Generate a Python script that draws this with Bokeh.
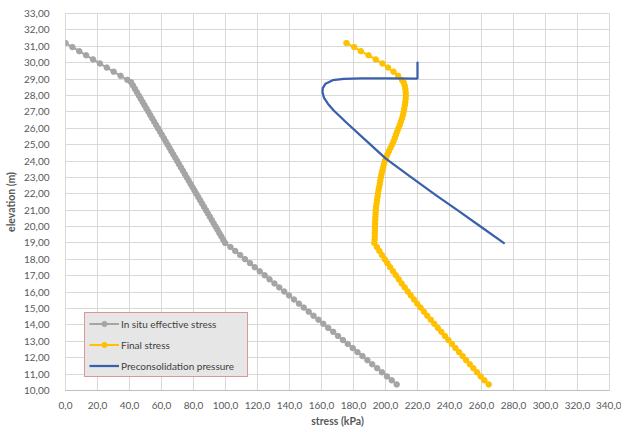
from bokeh.plotting import figure
from bokeh.models import Range1d, FixedTicker, Legend, LegendItem
from bokeh.embed import file_html
from bokeh.resources import INLINE

# elevation (m) of the profile points
elevation = [
    31.2, 30.95, 30.7, 30.45, 30.2, 29.95, 29.7, 29.45, 29.2, 28.95,
    28.8, 28.6, 28.4, 28.2, 28.0, 27.8, 27.6, 27.4, 27.2, 27.0,
    26.8, 26.6, 26.4, 26.2, 26.0, 25.8, 25.6, 25.4, 25.2, 25.0,
    24.8, 24.6, 24.4, 24.2, 24.0, 23.8, 23.6, 23.4, 23.2, 23.0,
    22.8, 22.6, 22.4, 22.2, 22.0, 21.8, 21.6, 21.4, 21.2, 21.0,
    20.8, 20.6, 20.4, 20.2, 20.0, 19.8, 19.6, 19.4, 19.2, 19.0,
    18.75, 18.51, 18.26, 18.01, 17.77, 17.52, 17.27, 17.03, 16.78, 16.53,
    16.29, 16.04, 15.8, 15.55, 15.3, 15.06, 14.81, 14.56, 14.32, 14.07,
    13.82, 13.58, 13.33, 13.08, 12.84, 12.59, 12.34, 12.1, 11.85, 11.6,
    11.36, 11.11, 10.86, 10.62, 10.37,
]

# in situ effective stress (kPa)
in_situ = [
    0.0, 4.3, 8.6, 12.9, 17.2, 21.5, 25.8, 30.1, 34.4, 38.7,
    41.0, 42.2, 43.4, 44.6, 45.8, 47.0, 48.2, 49.4, 50.6, 51.8,
    53.0, 54.2, 55.4, 56.6, 57.8, 59.0, 60.2, 61.4, 62.6, 63.8,
    65.0, 66.2, 67.4, 68.6, 69.8, 71.0, 72.2, 73.4, 74.6, 75.8,
    77.0, 78.2, 79.4, 80.6, 81.8, 83.0, 84.2, 85.4, 86.6, 87.8,
    89.0, 90.2, 91.4, 92.6, 93.8, 95.0, 96.2, 97.4, 98.6, 99.8,
    103.1, 106.1, 109.2, 112.2, 115.3, 118.3, 121.4, 124.5, 127.5, 130.6,
    133.6, 136.7, 139.7, 142.8, 145.9, 148.9, 152.0, 155.0, 158.1, 161.1,
    164.2, 167.3, 170.3, 173.4, 176.4, 179.5, 182.5, 185.6, 188.7, 191.7,
    194.8, 197.8, 200.9, 203.9, 207.0,
]

# final stress (kPa)
final_stress = [
    175.6, 180.4, 184.6, 189.4, 193.9, 198.1, 201.6, 205.0, 207.9, 210.3,
    211.3, 212.0, 212.4, 212.6, 212.7, 212.6, 212.4, 212.1, 211.7, 211.3,
    210.9, 210.3, 209.6, 208.9, 208.1, 207.3, 206.5, 205.8, 205.0, 204.1,
    203.1, 202.1, 201.2, 200.4, 199.6, 199.0, 198.5, 198.0, 197.5, 197.1,
    196.7, 196.4, 196.0, 195.6, 195.3, 195.0, 194.7, 194.4, 194.1, 193.9,
    193.8, 193.7, 193.6, 193.5, 193.4, 193.4, 193.3, 193.3, 193.2, 193.0,
    194.6, 196.2, 197.8, 199.5, 201.2, 202.9, 204.7, 206.5, 208.3, 210.1,
    212.0, 213.9, 215.8, 217.8, 219.8, 221.9, 224.0, 226.1, 228.3, 230.5,
    232.7, 234.9, 237.1, 239.3, 241.5, 243.7, 246.0, 248.2, 250.4, 252.7,
    254.9, 257.2, 259.5, 261.8, 264.5,
]

# preconsolidation pressure (kPa) and its elevations (m)
pc_stress = [220.0, 220.0, 200.0, 185.0, 174.0, 167.0, 162.5, 160.8, 160.6, 161.6,
             164.0, 167.5, 175.5, 186.5, 200.2, 215.5, 231.0, 246.5, 260.5, 274.5]
pc_elevation = [30.05, 29.03, 29.04, 29.04, 29.01, 28.93, 28.72, 28.45, 28.2, 27.85,
                27.5, 27.1, 26.35, 25.37, 24.15, 23.05, 21.95, 20.9, 19.93, 18.96]

x_ticks = [0, 20, 40, 60, 80, 100, 120, 140, 160, 180, 200, 220, 240, 260, 280, 300, 320, 340]
y_ticks = [10, 11, 12, 13, 14, 15, 16, 17, 18, 19, 20, 21, 22, 23, 24, 25, 26, 27, 28, 29, 30, 31, 32, 33]
x_labels = {t: f"{t:.1f}".replace(".", ",") for t in x_ticks}
y_labels = {t: f"{t:.2f}".replace(".", ",") for t in y_ticks}

FONT = "Lato"
TXT = "#595959"

p = figure(width=621, height=430, x_range=Range1d(0, 340), y_range=Range1d(10, 33),
           output_backend="svg", toolbar_location=None,
           min_border_left=65, min_border_right=12, min_border_top=13, min_border_bottom=40)
p.background_fill_color = "white"
p.border_fill_color = "white"
p.outline_line_color = "#d9d9d9"

p.xaxis.ticker = FixedTicker(ticks=x_ticks)
p.yaxis.ticker = FixedTicker(ticks=y_ticks)
p.xaxis.major_label_overrides = x_labels
p.yaxis.major_label_overrides = y_labels
p.xgrid.ticker = FixedTicker(ticks=x_ticks)
p.ygrid.ticker = FixedTicker(ticks=y_ticks)
p.grid.grid_line_color = "#d9d9d9"
p.grid.grid_line_width = 1

for ax in (p.xaxis, p.yaxis):
    ax.major_tick_line_color = None
    ax.minor_tick_line_color = None
    ax.major_label_text_color = TXT
    ax.major_label_text_font = FONT
    ax.major_label_text_font_size = "10px"
    ax.axis_label_text_color = TXT
    ax.axis_label_text_font = FONT
    ax.axis_label_text_font_size = "10.5px"
    ax.axis_label_text_font_style = "bold"
p.xaxis.axis_line_color = "#bfbfbf"
p.yaxis.axis_line_color = None
p.xaxis.axis_label = "stress (kPa)"
p.yaxis.axis_label = "elevation (m)"
p.xaxis.major_label_standoff = 5
p.xaxis.axis_label_standoff = 3
p.yaxis.major_label_standoff = 10
p.yaxis.axis_label_standoff = 4

gray = "#a5a5a5"
yellow = "#ffc000"
blue = "#3a5fab"

g_line = p.line(in_situ, elevation, line_color=gray, line_width=2)
g_pts = p.scatter(in_situ, elevation, size=5.5, fill_color=gray, line_color=gray)
y_line = p.line(final_stress, elevation, line_color=yellow, line_width=2)
y_pts = p.scatter(final_stress, elevation, size=5.5, fill_color=yellow, line_color=yellow)
b_line = p.line(pc_stress, pc_elevation, line_color=blue, line_width=2.25)

legend = Legend(items=[
    LegendItem(label="In situ effective stress", renderers=[g_line, g_pts]),
    LegendItem(label="Final stress", renderers=[y_line, y_pts]),
    LegendItem(label="Preconsolidation pressure", renderers=[b_line]),
], location=(19, 13))
legend.border_line_color = "#d04848"
legend.border_line_width = 1.2
legend.background_fill_color = "#e6e6e6"
legend.background_fill_alpha = 1
legend.padding = 4
legend.spacing = 8
legend.margin = 0
legend.label_height = 13
legend.glyph_height = 13
legend.glyph_width = 30
legend.label_standoff = 2
legend.label_width = 122
legend.label_text_font = FONT
legend.label_text_font_size = "10px"
legend.label_text_color = "#404040"
p.add_layout(legend)

open("out.html", "w").write(file_html(p, INLINE))
